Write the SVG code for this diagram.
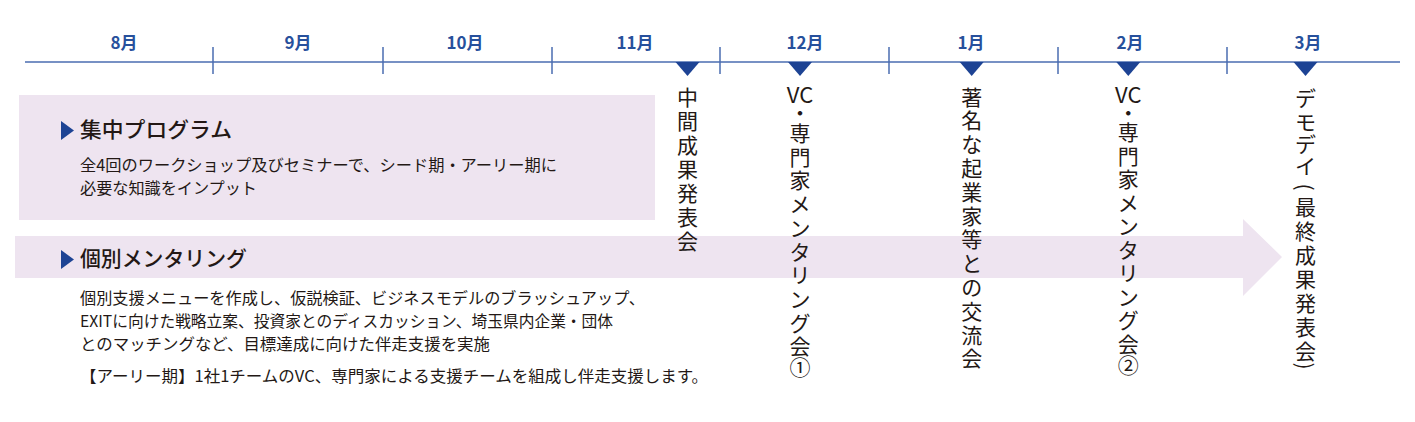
<svg xmlns="http://www.w3.org/2000/svg" width="1415" height="422" viewBox="0 0 1415 422">
<style>
.month{font-family:"Noto Sans CJK JP","Noto Sans",sans-serif;font-size:17px;font-weight:700;fill:#27509c;text-anchor:middle}
.title{font-family:"Noto Sans CJK JP",sans-serif;font-size:21px;font-weight:500;fill:#231815}
.body{font-family:"Noto Sans CJK JP",sans-serif;font-size:16px;font-weight:400;fill:#231815}
.vt{font-family:"Noto Sans CJK JP",sans-serif;font-size:21px;font-weight:400;fill:#231815;text-anchor:middle}
.vl{font-size:22px}
.paren{font-family:"Noto Sans CJK JP",sans-serif;font-size:21px;font-weight:400;fill:#231815;text-anchor:middle;dominant-baseline:central}
.axis{stroke:#4a6db0;stroke-width:1.5;fill:none}
.mark{fill:#1d4394}
.band{fill:#eee4f0}
</style>
<rect width="1415" height="422" fill="#ffffff"/>
<g id="timeline">
<line class="axis" x1="25" y1="62" x2="1400" y2="62"/>
<g class="axis">
<line x1="213" y1="47" x2="213" y2="74"/>
<line x1="383" y1="47" x2="383" y2="74"/>
<line x1="552" y1="47" x2="552" y2="74"/>
<line x1="720" y1="47" x2="720" y2="74"/>
<line x1="889" y1="47" x2="889" y2="74"/>
<line x1="1058" y1="47" x2="1058" y2="74"/>
<line x1="1227" y1="47" x2="1227" y2="74"/>
</g>
<text class="month" x="124" y="49">8月</text>
<text class="month" x="298" y="49">9月</text>
<text class="month" x="465" y="49">10月</text>
<text class="month" x="635" y="49">11月</text>
<text class="month" x="805" y="49">12月</text>
<text class="month" x="971" y="49">1月</text>
<text class="month" x="1130" y="49">2月</text>
<text class="month" x="1308" y="49">3月</text>
<g class="mark">
<polygon points="675.5,62 699.5,62 687.5,76"/>
<polygon points="788,62 812,62 800,76"/>
<polygon points="959.7,62 983.7,62 971.7,76"/>
<polygon points="1116.3,62 1140.3,62 1128.3,76"/>
<polygon points="1293.5,62 1317.5,62 1305.5,76"/>
</g>
</g>
<g id="program">
<rect class="band" x="19" y="95" width="636" height="125"/>
<polygon class="mark" points="61,121 61,140 74,130.5"/>
<text class="title" x="80" y="137" textLength="152" lengthAdjust="spacingAndGlyphs">集中プログラム</text>
<text class="body" x="80" y="170.5" textLength="477" lengthAdjust="spacingAndGlyphs">全4回のワークショップ及びセミナーで、シード期・アーリー期に</text>
<text class="body" x="80" y="194" textLength="177" lengthAdjust="spacingAndGlyphs">必要な知識をインプット</text>
</g>
<g id="mentoring">
<polygon class="band" points="15,236 1243,236 1243,219 1282,257 1243,296 1243,278 15,278"/>
<polygon class="mark" points="61,250 61,269 74,259.5"/>
<text class="title" x="80" y="266" textLength="167" lengthAdjust="spacingAndGlyphs">個別メンタリング</text>
<text class="body" x="80" y="304" textLength="565" lengthAdjust="spacingAndGlyphs">個別支援メニューを作成し、仮説検証、ビジネスモデルのブラッシュアップ、</text>
<text class="body" x="80" y="327" textLength="533" lengthAdjust="spacingAndGlyphs">EXITに向けた戦略立案、投資家とのディスカッション、埼玉県内企業・団体</text>
<text class="body" x="80" y="350" textLength="410" lengthAdjust="spacingAndGlyphs">とのマッチングなど、目標達成に向けた伴走支援を実施</text>
<text class="body" x="80" y="382" textLength="628" lengthAdjust="spacingAndGlyphs">【アーリー期】1社1チームのVC、専門家による支援チームを組成し伴走支援します。</text>
</g>
<g id="event-midterm">
<text class="vt"><tspan x="687.5" y="105">中</tspan><tspan x="687.5" y="129">間</tspan><tspan x="687.5" y="153">成</tspan><tspan x="687.5" y="177">果</tspan><tspan x="687.5" y="201">発</tspan><tspan x="687.5" y="225">表</tspan><tspan x="687.5" y="249">会</tspan></text>
</g>
<g id="event-vc1">
<text class="vt"><tspan class="vl" x="800" y="103">VC</tspan><tspan x="800" y="121">・</tspan><tspan x="800" y="141">専</tspan><tspan x="800" y="164.7">門</tspan><tspan x="800" y="188.4">家</tspan><tspan x="800" y="212.1">メ</tspan><tspan x="800" y="235.8">ン</tspan><tspan x="800" y="259.5">タ</tspan><tspan x="800" y="283.2">リ</tspan><tspan x="800" y="306.9">ン</tspan><tspan x="800" y="330.6">グ</tspan><tspan x="800" y="354.3">会</tspan><tspan x="800" y="375">①</tspan></text>
</g>
<g id="event-networking">
<text class="vt"><tspan x="971.7" y="104.5">著</tspan><tspan x="971.7" y="128.3">名</tspan><tspan x="971.7" y="152.1">な</tspan><tspan x="971.7" y="175.9">起</tspan><tspan x="971.7" y="199.7">業</tspan><tspan x="971.7" y="223.5">家</tspan><tspan x="971.7" y="247.3">等</tspan><tspan x="971.7" y="271.1">と</tspan><tspan x="971.7" y="294.9">の</tspan><tspan x="971.7" y="318.7">交</tspan><tspan x="971.7" y="342.5">流</tspan><tspan x="971.7" y="366.3">会</tspan></text>
</g>
<g id="event-vc2">
<text class="vt"><tspan class="vl" x="1128.3" y="103">VC</tspan><tspan x="1128.3" y="121">・</tspan><tspan x="1128.3" y="140">専</tspan><tspan x="1128.3" y="163.5">門</tspan><tspan x="1128.3" y="187">家</tspan><tspan x="1128.3" y="210.5">メ</tspan><tspan x="1128.3" y="234">ン</tspan><tspan x="1128.3" y="257.5">タ</tspan><tspan x="1128.3" y="281">リ</tspan><tspan x="1128.3" y="304.5">ン</tspan><tspan x="1128.3" y="328">グ</tspan><tspan x="1128.3" y="351.5">会</tspan><tspan x="1128.3" y="373">②</tspan></text>
</g>
<g id="event-demoday">
<text class="vt"><tspan x="1305.5" y="105.5">デ</tspan><tspan x="1305.5" y="130">モ</tspan><tspan x="1305.5" y="152">デ</tspan><tspan x="1305.5" y="174">イ</tspan><tspan x="1305.5" y="214.7">最</tspan><tspan x="1305.5" y="239">終</tspan><tspan x="1305.5" y="263">成</tspan><tspan x="1305.5" y="287">果</tspan><tspan x="1305.5" y="311">発</tspan><tspan x="1305.5" y="335">表</tspan><tspan x="1305.5" y="359">会</tspan></text>
<text class="paren" x="1305.5" y="187" transform="rotate(90 1305.5 187)">(</text>
<text class="paren" x="1305.5" y="366" transform="rotate(90 1305.5 366)">)</text>
</g>
</svg>
